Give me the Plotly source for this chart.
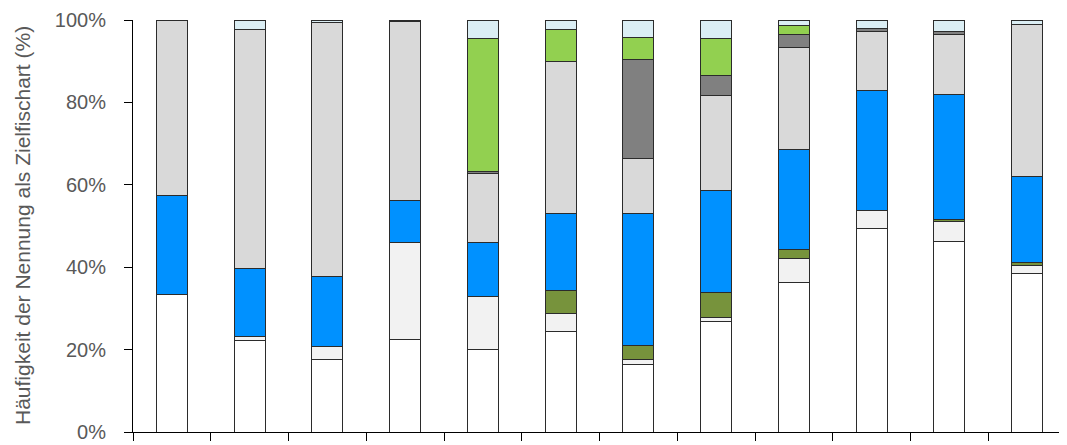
import plotly.graph_objects as go

categories = ["1", "2", "3", "4", "5", "6", "7", "8", "9", "10", "11", "12"]

# stacked shares (%) from bottom to top
white      = [33.3, 22.3, 17.6, 22.5, 20.1, 24.5, 16.3, 26.9, 36.3, 49.3, 46.2, 38.5]
very_light = [None, 0.8, 3.1, 23.4, 12.9, 4.3, 1.3, 0.8, 5.8, 4.4, 4.8, 1.9]
olive      = [None, None, None, None, None, 5.5, 3.4, 6.1, 2.1, None, 0.5, 0.8]
blue       = [24.2, 16.6, 17.0, 10.2, 13.1, 18.8, 32.1, 24.8, 24.4, 29.3, 30.3, 20.8]
light_gray = [42.5, 58.1, 61.8, 43.5, 16.7, 36.9, 13.3, 23.0, 24.8, 14.3, 14.7, 37.0]
dark_gray  = [None, None, None, 0.4, 0.4, None, 24.0, 4.9, 3.1, 0.7, 0.8, None]
light_green= [None, None, None, None, 32.3, 7.8, 5.4, 9.0, 2.1, None, None, None]
light_blue = [None, 2.2, 0.5, None, 4.5, 2.2, 4.2, 4.5, 1.4, 2.0, 2.7, 1.0]

y_ticks = [0, 20, 40, 60, 80, 100]
y_tick_labels = ["0%", "20%", "40%", "60%", "80%", "100%"]

series = [
    ("weiß", white, "#ffffff"),
    ("hellgrau", very_light, "#f2f2f2"),
    ("oliv", olive, "#77933c"),
    ("blau", blue, "#0091ff"),
    ("grau", light_gray, "#d9d9d9"),
    ("dunkelgrau", dark_gray, "#808080"),
    ("hellgrün", light_green, "#92d050"),
    ("hellblau", light_blue, "#dbeef4"),
]

fig = go.Figure()
for name, vals, col in series:
    fig.add_trace(go.Bar(
        x=categories, y=vals, name=name,
        marker=dict(color=col, line=dict(color="#2b2b2b", width=1)),
        showlegend=False,
    ))

# page body has an 8px default margin; figure sized to compensate
fig.update_layout(
    barmode="stack",
    bargap=0.6,
    width=1059, height=437,
    margin=dict(l=125, r=1, t=12, b=13),
    paper_bgcolor="white", plot_bgcolor="white",
    font=dict(family="Liberation Sans, Arial, sans-serif", color="#595959"),
    annotations=[dict(
        text="Häufigkeit der Nennung als Zielfischart (%)",
        xref="paper", yref="paper", x=(14 - 125) / 933, y=0.5,
        xanchor="center", yanchor="middle", textangle=-90, showarrow=False,
        font=dict(size=21, color="#595959"),
    )],
)
fig.update_xaxes(
    showticklabels=False, showline=True, linecolor="#000000", linewidth=1,
    ticks="outside", ticklen=8, tickcolor="#000000", tickson="boundaries",
    showgrid=False, range=[-0.5, 11.5],
)
fig.update_yaxes(
    range=[0, 100], tickmode="array", tickvals=y_ticks, ticktext=y_tick_labels,
    showline=True, linecolor="#000000", linewidth=1,
    ticks="outside", ticklen=8, tickcolor="#000000", ticklabelstandoff=14,
    showgrid=False, zeroline=False, automargin=False,
    tickfont=dict(size=20, color="#595959"),
)

fig.write_html("out.html")
